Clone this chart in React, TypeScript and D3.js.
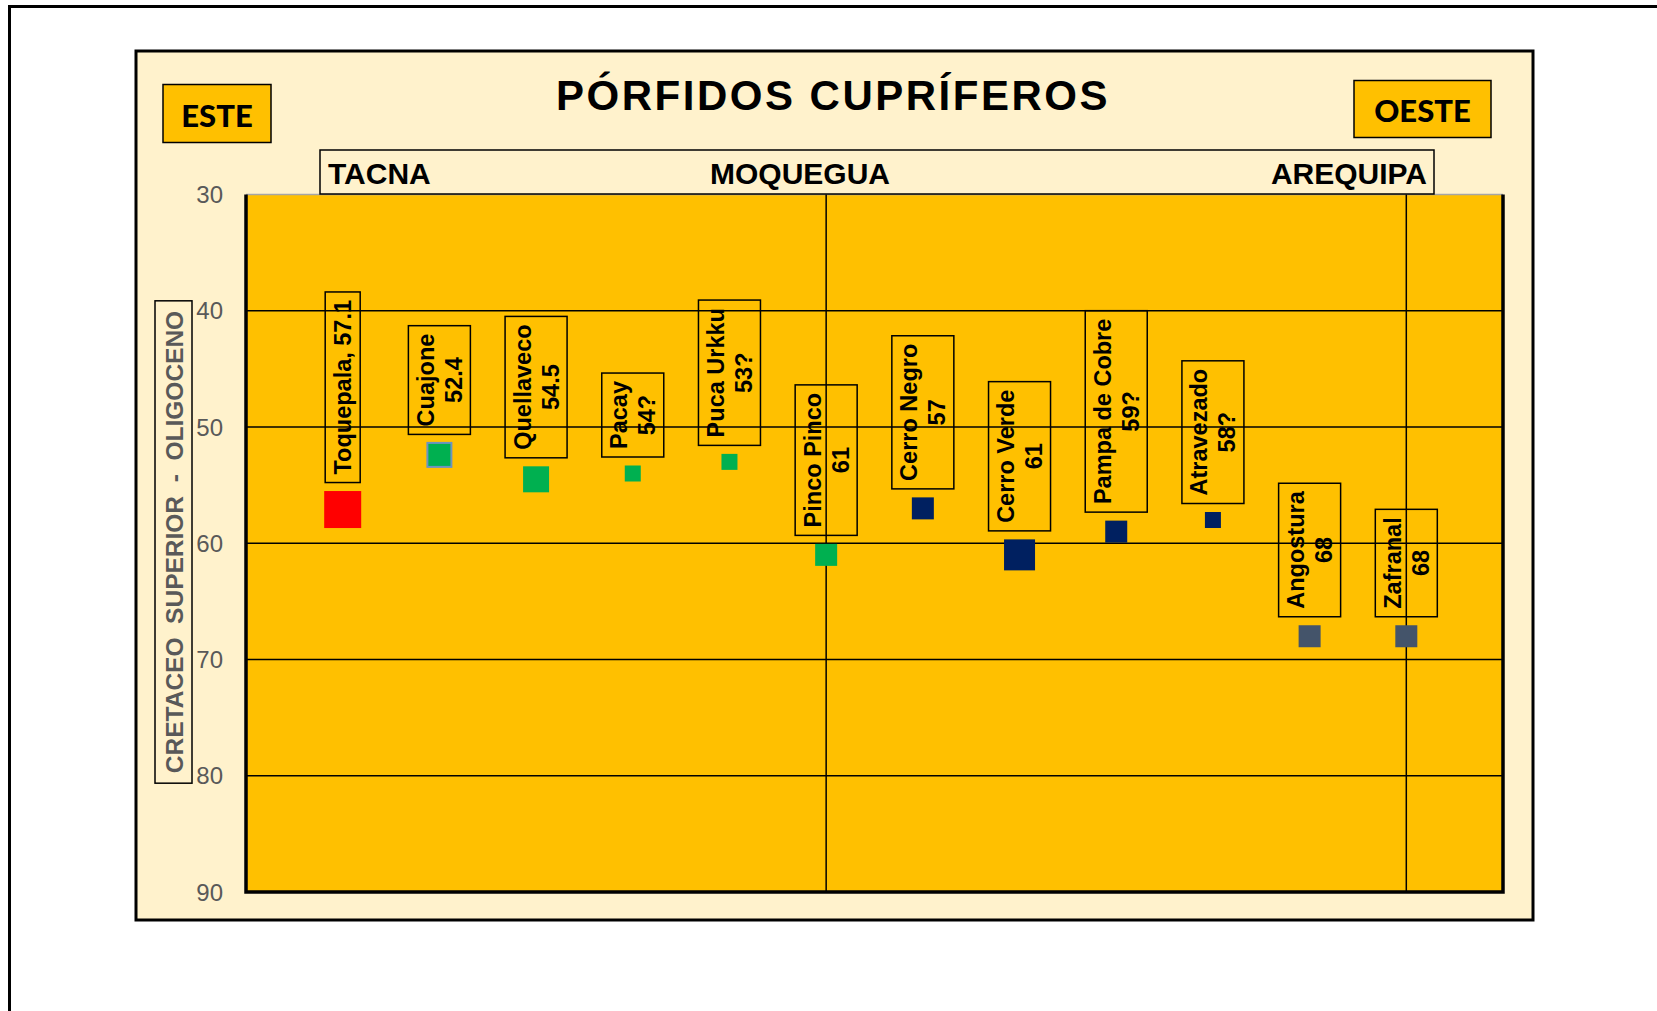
import React, { useEffect, useRef } from "react";
import * as d3 from "d3";

// porphyry deposits, east -> west
const deposits = [
  "Toquepala, 57.1",
  "Cuajone",
  "Quellaveco",
  "Pacay",
  "Puca Urkku",
  "Pinco Pinco",
  "Cerro Negro",
  "Cerro Verde",
  "Pampa de Cobre",
  "Atravezado",
  "Angostura",
  "Zafranal",
];
const ageText = ["", "52.4", "54.5", "54?", "53?", "61", "57", "61", "59?", "58?", "68", "68"];
const order = [1, 2, 3, 4, 5, 6, 7, 8, 9, 10, 11, 12];
const ages = [57.1, 52.4, 54.5, 54, 53, 61, 57, 61, 59, 58, 68, 68];

const yTicks = [30, 40, 50, 60, 70, 80, 90];
const xGridTicks = [6, 12];
const regions = ["TACNA", "MOQUEGUA", "AREQUIPA"];

// per-point marker formatting (as in the original sheet)
const markerStyle = [
  { size: 37, fill: "#FF0000", stroke: "none" },
  { size: 24, fill: "#00B050", stroke: "#6E93C0" },
  { size: 26, fill: "#00B050", stroke: "none" },
  { size: 16, fill: "#00B050", stroke: "none" },
  { size: 16, fill: "#00B050", stroke: "none" },
  { size: 22, fill: "#00B050", stroke: "none" },
  { size: 22, fill: "#002060", stroke: "none" },
  { size: 31, fill: "#002060", stroke: "none" },
  { size: 22, fill: "#002060", stroke: "none" },
  { size: 16, fill: "#002060", stroke: "none" },
  { size: 22, fill: "#44546A", stroke: "none" },
  { size: 22, fill: "#44546A", stroke: "none" },
];

const ARIAL = "'Liberation Sans', Arial, sans-serif";

const App = () => {
  const svgRef = useRef<SVGSVGElement>(null);

  useEffect(() => {
    const svg = d3.select(svgRef.current);
    svg.selectAll("*").remove();

    const width = 1657;
    const height = 1011;
    const plot = { left: 246, right: 1503, top: 194.5, bottom: 892 };

    svg.attr("width", width).attr("height", height);

    // page frame
    svg.append("rect")
      .attr("x", 9.5).attr("y", 6.5)
      .attr("width", 2000).attr("height", 2000)
      .attr("fill", "#fff").attr("stroke", "#000").attr("stroke-width", 3);

    // chart panel
    svg.append("rect")
      .attr("x", 136).attr("y", 51)
      .attr("width", 1397).attr("height", 869)
      .attr("fill", "#FFF2CC").attr("stroke", "#000").attr("stroke-width", 3);

    // Scales
    const x = d3.scaleLinear().domain([0, 13]).range([plot.left, plot.right]);
    const y = d3.scaleLinear().domain([30, 90]).range([plot.top, plot.bottom]);

    svg.append("rect")
      .attr("x", plot.left).attr("y", plot.top)
      .attr("width", plot.right - plot.left).attr("height", plot.bottom - plot.top)
      .attr("fill", "#FFC000");

    // gridlines
    svg.append("g")
      .selectAll("line")
      .data(yTicks.filter(t => t !== 30 && t !== 90))
      .enter()
      .append("line")
      .attr("x1", plot.left).attr("x2", plot.right)
      .attr("y1", d => y(d)).attr("y2", d => y(d))
      .attr("stroke", "#000").attr("stroke-width", 1.6);

    svg.append("line")
      .attr("x1", plot.left).attr("x2", plot.right)
      .attr("y1", y(30)).attr("y2", y(30))
      .attr("stroke", "#a6a6a6").attr("stroke-width", 1.5);

    svg.append("g")
      .selectAll("line")
      .data(xGridTicks)
      .enter()
      .append("line")
      .attr("x1", d => x(d)).attr("x2", d => x(d))
      .attr("y1", plot.top).attr("y2", plot.bottom)
      .attr("stroke", "#000").attr("stroke-width", 1.5);

    // axis border (left, bottom, right)
    svg.append("path")
      .attr("d", `M${plot.left},${plot.top}V${plot.bottom}H${plot.right}V${plot.top}`)
      .attr("fill", "none").attr("stroke", "#000").attr("stroke-width", 3.5);

    // y tick labels
    svg.append("g")
      .selectAll("text")
      .data(yTicks)
      .enter()
      .append("text")
      .attr("x", 223)
      .attr("y", d => y(d))
      .attr("dy", "0.36em")
      .attr("text-anchor", "end")
      .attr("font-family", ARIAL)
      .attr("font-size", 24)
      .attr("fill", "#595959")
      .text(d => d);

    // y axis title in a box
    const yTitle = svg.append("g").attr("transform", "translate(173.5,542) rotate(-90)");
    const yt = yTitle.append("text")
      .attr("x", 0).attr("y", 9)
      .attr("text-anchor", "middle")
      .attr("font-family", ARIAL)
      .attr("font-weight", "bold")
      .attr("font-size", 24.5)
      .attr("fill", "#595959")
      .attr("xml:space", "preserve")
      .style("white-space", "pre")
      .text("CRETACEO  SUPERIOR  -  OLIGOCENO");
    const ytLen = (yt.node() as SVGTextElement).getComputedTextLength();
    yTitle.insert("rect", "text")
      .attr("x", -ytLen / 2 - 10).attr("y", -18.5)
      .attr("width", ytLen + 20).attr("height", 37)
      .attr("fill", "none").attr("stroke", "#000").attr("stroke-width", 1.5);

    // region strip
    svg.append("rect")
      .attr("x", 320).attr("y", 150)
      .attr("width", 1114).attr("height", 44)
      .attr("fill", "#FFF2CC").attr("stroke", "#000").attr("stroke-width", 1.5);
    const regionX = [328, 800, 1427];
    const regionAnchor = ["start", "middle", "end"];
    svg.append("g")
      .selectAll("text")
      .data(regions)
      .enter()
      .append("text")
      .attr("x", (d, i) => regionX[i])
      .attr("y", 184)
      .attr("text-anchor", (d, i) => regionAnchor[i])
      .attr("font-family", ARIAL)
      .attr("font-weight", "bold")
      .attr("font-size", 30)
      .attr("fill", "#000")
      .text(d => d);

    // title
    svg.append("text")
      .attr("x", 833).attr("y", 110)
      .attr("text-anchor", "middle")
      .attr("font-family", ARIAL)
      .attr("font-weight", "bold")
      .attr("font-size", 42)
      .attr("letter-spacing", 2.5)
      .attr("fill", "#000")
      .text("PÓRFIDOS CUPRÍFEROS");

    // ESTE / OESTE boxes
    const sides = [
      { label: "ESTE", x0: 163, y0: 84.5, w: 108, h: 58 },
      { label: "OESTE", x0: 1354, y0: 80.5, w: 137, h: 57 },
    ];
    sides.forEach(s => {
      svg.append("rect")
        .attr("x", s.x0).attr("y", s.y0).attr("width", s.w).attr("height", s.h)
        .attr("fill", "#FFC000").attr("stroke", "#000").attr("stroke-width", 1.5);
      svg.append("text")
        .attr("x", s.x0 + s.w / 2).attr("y", s.y0 + s.h / 2 + 13)
        .attr("text-anchor", "middle")
        .attr("font-family", "Lato, sans-serif")
        .attr("font-weight", 900)
        .attr("font-size", 31)
        .attr("fill", "#000")
        .text(s.label);
    });

    // markers
    svg.append("g")
      .selectAll("rect")
      .data(order)
      .enter()
      .append("rect")
      .attr("x", (d, i) => x(d) - markerStyle[i].size / 2)
      .attr("y", (d, i) => y(ages[i]) - markerStyle[i].size / 2)
      .attr("width", (d, i) => markerStyle[i].size)
      .attr("height", (d, i) => markerStyle[i].size)
      .attr("fill", (d, i) => markerStyle[i].fill)
      .attr("stroke", (d, i) => markerStyle[i].stroke)
      .attr("stroke-width", 2);

    // data labels (rotated, boxed, above each marker)
    const lineStep = 28;
    order.forEach((d, i) => {
      const lines = ageText[i] ? [deposits[i], ageText[i]] : [deposits[i]];
      const g = svg.append("g");
      const texts = lines.map((ln, k) =>
        g.append("text")
          .attr("x", 0)
          .attr("y", (k - (lines.length - 1) / 2) * lineStep + 8.5)
          .attr("text-anchor", "middle")
          .attr("font-family", ARIAL)
          .attr("font-weight", "bold")
          .attr("font-size", 23.5)
          .attr("fill", "#000")
          .text(ln)
      );
      const len = d3.max(texts, t => (t.node() as SVGTextElement).getComputedTextLength()) as number;
      const pad = 8;
      const boxLen = len + pad * 2;
      const boxW = lines.length * 27 + 8;
      g.insert("rect", "text")
        .attr("x", -boxLen / 2).attr("y", -boxW / 2)
        .attr("width", boxLen).attr("height", boxW)
        .attr("fill", "none").attr("stroke", "#000").attr("stroke-width", 1.5);
      const cy = y(ages[i]) - markerStyle[i].size / 2 - 8.5 - boxLen / 2;
      g.attr("transform", `translate(${x(d)},${cy}) rotate(-90)`);
    });
  }, []);

  return (
    <div style={{ position: "fixed", left: 0, top: 0, width: 1657, height: 1011, background: "#fff", overflow: "hidden" }}>
      <svg ref={svgRef}></svg>
    </div>
  );
};

export default App;
